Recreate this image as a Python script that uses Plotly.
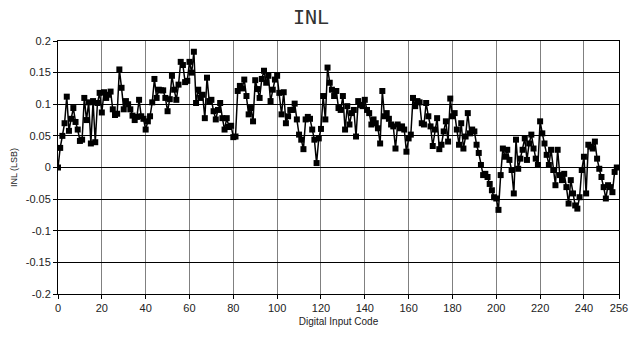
import plotly.graph_objects as go

codes = list(range(256))
inl = [
    0.0, 0.031, 0.05, 0.07, 0.112, 0.058, 0.077, 0.094, 0.072, 0.06,
    0.042, 0.044, 0.11, 0.075, 0.103, 0.038, 0.105, 0.04, 0.102, 0.118,
    0.087, 0.119, 0.11, 0.115, 0.12, 0.092, 0.083, 0.085, 0.155, 0.126,
    0.092, 0.105, 0.1, 0.092, 0.082, 0.075, 0.08, 0.107, 0.081, 0.077,
    0.06, 0.073, 0.081, 0.103, 0.14, 0.11, 0.123, 0.122, 0.122, 0.11,
    0.089, 0.108, 0.145, 0.123, 0.107, 0.131, 0.167, 0.162, 0.135, 0.137,
    0.167, 0.15, 0.183, 0.102, 0.123, 0.11, 0.115, 0.078, 0.142, 0.105,
    0.107, 0.089, 0.076, 0.091, 0.102, 0.078, 0.06, 0.078, 0.064, 0.066,
    0.048, 0.049, 0.121, 0.129, 0.125, 0.139, 0.113, 0.084, 0.094, 0.073,
    0.138, 0.124, 0.11, 0.14, 0.153, 0.134, 0.145, 0.105, 0.123, 0.139,
    0.145, 0.118, 0.084, 0.119, 0.07, 0.081, 0.091, 0.091, 0.101, 0.076,
    0.052, 0.044, 0.029, 0.076, 0.08, 0.077, 0.06, 0.044, 0.007, 0.046,
    0.061, 0.113, 0.076, 0.158, 0.134, 0.123, 0.113, 0.121, 0.094, 0.091,
    0.113, 0.06, 0.097, 0.068, 0.086, 0.091, 0.049, 0.105, 0.099, 0.097,
    0.107, 0.091, 0.086, 0.068, 0.076, 0.07, 0.062, 0.038, 0.121, 0.081,
    0.086, 0.077, 0.068, 0.065, 0.03, 0.068, 0.062, 0.065, 0.06, 0.025,
    0.046, 0.052, 0.11, 0.097, 0.105, 0.103, 0.07, 0.068, 0.102, 0.081,
    0.065, 0.034, 0.06, 0.078, 0.029, 0.036, 0.057, 0.073, 0.041, 0.109,
    0.081, 0.086, 0.06, 0.036, 0.07, 0.03, 0.049, 0.086, 0.054, 0.06,
    0.057, 0.036, 0.023, 0.004, -0.012, -0.01, -0.015, -0.026, -0.036, -0.047,
    -0.049, -0.067, -0.012, 0.03, 0.017, 0.028, 0.012, -0.004, -0.041, 0.044,
    -0.002, 0.014, 0.028, 0.046, 0.012, 0.038, 0.052, 0.03, 0.014, 0.004,
    0.073, 0.054, 0.038, 0.02, 0.004, 0.028, -0.004, -0.028, 0.028, -0.012,
    -0.02, -0.01, -0.031, -0.057, -0.02, -0.041, -0.06, -0.065, -0.047, -0.004,
    0.017, -0.041, 0.036, 0.033, 0.03, 0.041, 0.014, -0.002, -0.015, -0.031,
    -0.049, -0.028, -0.031, -0.039, -0.007, 0.0,
]

x_ticks = [0, 20, 40, 60, 80, 100, 120, 140, 160, 180, 200, 220, 240, 256]
y_ticks = [0.2, 0.15, 0.1, 0.05, 0, -0.05, -0.1, -0.15, -0.2]
y_ticklabels = ["0.2", "0.15", "0.1", "0.05", "0", "-0.05", "-0.1", "-0.15", "-0.2"]

fig = go.Figure()
fig.add_trace(go.Scatter(
    x=codes, y=inl, mode="lines+markers",
    line=dict(color="black", width=1.5),
    marker=dict(symbol="square", size=6, color="black"),
    showlegend=False,
))

font_ticks = dict(family="Liberation Sans", size=11, color="#222")

fig.update_layout(
    width=640, height=338,
    margin=dict(l=58, r=17, t=41, b=44),
    paper_bgcolor="white", plot_bgcolor="white",
    title=dict(text="INL", x=0.486, xref="container", xanchor="center",
               y=0.95, yref="container", yanchor="middle",
               font=dict(family="DejaVu Sans Mono", size=20, color="#333")),
    xaxis=dict(range=[0, 256], tickvals=x_ticks, ticks="outside", ticklen=4,
               tickcolor="black", showline=True, linecolor="black", linewidth=1,
               mirror=True, showgrid=True, gridcolor="#808080", gridwidth=1.2,
               zeroline=False, tickfont=font_ticks,
               title=dict(text="Digital Input Code", standoff=4,
                          font=dict(family="Liberation Sans", size=10, color="#222"))),
    yaxis=dict(range=[-0.2, 0.2], tickvals=y_ticks, ticktext=y_ticklabels,
               ticks="outside", ticklen=4, tickcolor="black",
               showline=True, linecolor="black", linewidth=1, mirror=True,
               showgrid=True, gridcolor="black", gridwidth=1, zeroline=False,
               tickfont=font_ticks,
               title=dict(text="INL (LSB)", standoff=6,
                          font=dict(family="Liberation Sans", size=9, color="#222"))),
)

fig.write_html("out.html")
